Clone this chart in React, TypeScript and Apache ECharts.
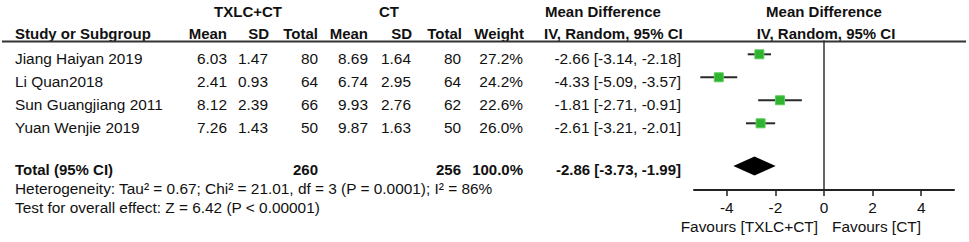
import React, { useEffect, useRef } from "react";
import * as echarts from "echarts";

const studies = ["Jiang Haiyan 2019", "Li Quan2018", "Sun Guangjiang 2011", "Yuan Wenjie 2019"];
const expMean = [6.03, 2.41, 8.12, 7.26];
const expSD = [1.47, 0.93, 2.39, 1.43];
const expN = [80, 64, 66, 50];
const ctlMean = [8.69, 6.74, 9.93, 9.87];
const ctlSD = [1.64, 2.95, 2.76, 1.63];
const ctlN = [80, 64, 62, 50];
const weights = [27.2, 24.2, 22.6, 26.0];
const md = [-2.66, -4.33, -1.81, -2.61];
const ciLow = [-3.14, -5.09, -2.71, -3.21];
const ciHigh = [-2.18, -3.57, -0.91, -2.01];
const totalLabel = "Total (95% CI)";
const totalExpN = 260;
const totalCtlN = 256;
const totalWeight = 100.0;
const totalMD = -2.86;
const totalLow = -3.73;
const totalHigh = -1.99;
const heterogeneity = "Heterogeneity: Tau² = 0.67; Chi² = 21.01, df = 3 (P = 0.0001); I² = 86%";
const overallEffect = "Test for overall effect: Z = 6.42 (P < 0.00001)";
const xTicks = [-4, -2, 0, 2, 4];
const groupA = "TXLC+CT";
const groupB = "CT";
const favoursLeft = "Favours [TXLC+CT]";
const favoursRight = "Favours [CT]";

// layout (positions only)
const FONT = '"Liberation Sans", Arial, Helvetica, sans-serif';
const FS_B = 15;
const FS_R = 15.4;
const GRID_TOP = 41;
const GRID_BOTTOM = 190;
const Y_MIN = -0.578;
const Y_MAX = 5.9;
const rowPos = [0, 1, 2, 3];
const totalPos = 4.86;
const yPix = (v: number) => GRID_TOP + ((v - Y_MIN) / (Y_MAX - Y_MIN)) * (GRID_BOTTOM - GRID_TOP);

const fmt2 = (v: number) => v.toFixed(2);

function txt(text: string, x: number, y: number, align: string, bold = false) {
  return {
    type: "text",
    x,
    y,
    silent: true,
    style: {
      text,
      fill: "#111",
      font: `${bold ? "bold " : ""}${bold ? FS_B : FS_R}px ${FONT}`,
      align,
      verticalAlign: "middle",
    },
  };
}

export default function App() {
  const ref = useRef<HTMLDivElement>(null);
  useEffect(() => {
    if (!ref.current) return;
    const chart = echarts.init(ref.current, undefined, { renderer: "svg" });

    const graphics: any[] = [];
    // headers
    graphics.push(txt(groupA, 248, 11, "center", true));
    graphics.push(txt(groupB, 389, 11, "center", true));
    graphics.push(txt("Mean Difference", 545, 11, "left", true));
    graphics.push(txt("Mean Difference", 824, 11, "center", true));
    const hy = 33;
    graphics.push(txt("Study or Subgroup", 15, hy, "left", true));
    graphics.push(txt("Mean", 227, hy, "right", true));
    graphics.push(txt("SD", 269, hy, "right", true));
    graphics.push(txt("Total", 318, hy, "right", true));
    graphics.push(txt("Mean", 368, hy, "right", true));
    graphics.push(txt("SD", 412, hy, "right", true));
    graphics.push(txt("Total", 462, hy, "right", true));
    graphics.push(txt("Weight", 524, hy, "right", true));
    graphics.push(txt("IV, Random, 95% CI", 544, hy, "left", true));
    graphics.push(txt("IV, Random, 95% CI", 826, hy, "center", true));
    graphics.push({
      type: "line",
      silent: true,
      shape: { x1: 2, y1: 41.5, x2: 966, y2: 41.5 },
      style: { stroke: "#333", lineWidth: 2 },
    });

    studies.forEach((s, i) => {
      const y = yPix(rowPos[i]) + 4;
      graphics.push(txt(s, 15, y, "left"));
      graphics.push(txt(fmt2(expMean[i]), 227, y, "right"));
      graphics.push(txt(fmt2(expSD[i]), 268, y, "right"));
      graphics.push(txt(String(expN[i]), 318, y, "right"));
      graphics.push(txt(fmt2(ctlMean[i]), 368, y, "right"));
      graphics.push(txt(fmt2(ctlSD[i]), 411, y, "right"));
      graphics.push(txt(String(ctlN[i]), 461, y, "right"));
      graphics.push(txt(weights[i].toFixed(1) + "%", 523, y, "right"));
      graphics.push(txt(`${fmt2(md[i])} [${fmt2(ciLow[i])}, ${fmt2(ciHigh[i])}]`, 681, y, "right"));
    });
    const ty = yPix(totalPos) + 3;
    graphics.push(txt(totalLabel, 15, ty, "left", true));
    graphics.push(txt(String(totalExpN), 318, ty, "right", true));
    graphics.push(txt(String(totalCtlN), 461, ty, "right", true));
    graphics.push(txt(totalWeight.toFixed(1) + "%", 523, ty, "right", true));
    graphics.push(txt(`${fmt2(totalMD)} [${fmt2(totalLow)}, ${fmt2(totalHigh)}]`, 681, ty, "right", true));
    graphics.push(txt(heterogeneity, 15, 188, "left"));
    graphics.push(txt(overallEffect, 15, 207, "left"));
    graphics.push(txt(favoursLeft, 818, 226, "right"));
    graphics.push(txt(favoursRight, 832, 226, "left"));

    chart.setOption({
      animation: false,
      grid: { left: 694, right: 15, top: GRID_TOP, bottom: 242 - GRID_BOTTOM, containLabel: false },
      xAxis: {
        type: "value",
        min: -5.35,
        max: 5.35,
        position: "bottom",
        axisLine: { show: true, onZero: false, lineStyle: { color: "#222", width: 2 } },
        axisTick: { show: true, customValues: xTicks, length: 6, lineStyle: { color: "#222", width: 1.5 } },
        axisLabel: {
          show: true,
          customValues: xTicks,
          fontSize: FS_R,
          fontFamily: FONT,
          color: "#111",
          margin: 10,
        },
        splitLine: { show: false },
      },
      yAxis: {
        type: "value",
        inverse: true,
        min: Y_MIN,
        max: Y_MAX,
        axisLine: { show: true, onZero: true, lineStyle: { color: "#333", width: 1.5 } },
        axisTick: { show: false },
        axisLabel: { show: false },
        splitLine: { show: false },
      },
      series: [
        {
          type: "custom",
          name: "CI",
          data: studies.map((_, i) => [ciLow[i], ciHigh[i], rowPos[i]]),
          encode: { x: [0, 1], y: 2 },
          renderItem: (params: any, api: any) => {
            const p1 = api.coord([api.value(0), api.value(2)]);
            const p2 = api.coord([api.value(1), api.value(2)]);
            return {
              type: "line",
              shape: { x1: p1[0], y1: p1[1], x2: p2[0], y2: p2[1] },
              style: { stroke: "#2a2a2a", lineWidth: 2 },
            };
          },
          silent: true,
        },
        {
          type: "scatter",
          name: "MD",
          data: studies.map((_, i) => [md[i], rowPos[i]]),
          symbol: "rect",
          symbolSize: 9,
          itemStyle: { color: "#2fb42f", borderColor: "#5ccc5c", borderWidth: 1, opacity: 1 },
          silent: true,
          z: 3,
        },
        {
          type: "custom",
          name: "Total",
          data: [[totalLow, totalMD, totalHigh, totalPos]],
          encode: { x: [0, 1, 2], y: 3 },
          renderItem: (params: any, api: any) => {
            const l = api.coord([api.value(0), api.value(3)]);
            const c = api.coord([api.value(1), api.value(3)]);
            const r = api.coord([api.value(2), api.value(3)]);
            const h = 9.5;
            return {
              type: "polygon",
              shape: { points: [[l[0], l[1]], [c[0], c[1] - h], [r[0], r[1]], [c[0], c[1] + h]] },
              style: { fill: "#000" },
            };
          },
          silent: true,
        },
      ],
      graphic: { elements: graphics },
    });
    return () => chart.dispose();
  }, []);
  return (
    <div
      ref={ref}
      style={{ position: "fixed", left: 0, top: 0, width: 969, height: 242, background: "#fff" }}
    />
  );
}
